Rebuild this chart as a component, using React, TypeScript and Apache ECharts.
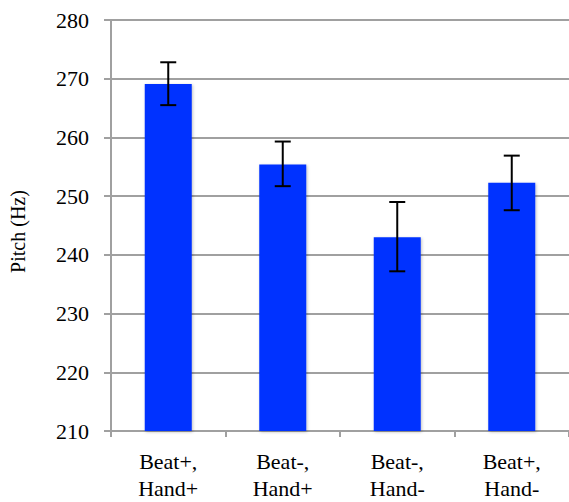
import React, { useEffect, useRef } from "react";
import * as echarts from "echarts";

const categories = ["Beat+,\nHand+", "Beat-,\nHand+", "Beat-,\nHand-", "Beat+,\nHand-"];
const means = [269.1, 255.4, 243.0, 252.3];
const errLow = [265.5, 251.7, 237.2, 247.6];
const errHigh = [272.8, 259.3, 249.0, 256.9];
const yTicks = { min: 210, max: 280, interval: 10 };

const FONT = "'Liberation Serif', 'Times New Roman', serif";

export default function App() {
  const ref = useRef<HTMLDivElement>(null);
  useEffect(() => {
    if (!ref.current) return;
    const chart = echarts.init(ref.current, undefined, { renderer: "svg" });
    chart.setOption({
      animation: false,
      backgroundColor: "#ffffff",
      grid: { left: 105, top: 20, height: 414.5, width: 468, containLabel: false },
      xAxis: {
        type: "category",
        data: categories,
        axisLine: { show: true, lineStyle: { color: "#a0a0a0", width: 2 } },
        axisTick: { show: true, alignWithLabel: false, length: 6, lineStyle: { color: "#a0a0a0", width: 2 } },
        axisLabel: {
          color: "#000",
          fontFamily: FONT,
          fontSize: 22,
          lineHeight: 27,
          margin: 17,
          interval: 0,
        },
        splitLine: { show: false },
      },
      yAxis: {
        type: "value",
        min: yTicks.min,
        max: yTicks.max,
        interval: yTicks.interval,
        name: "Pitch (Hz)",
        nameLocation: "middle",
        nameGap: 83,
        nameTextStyle: { color: "#000", fontFamily: FONT, fontSize: 20, padding: [0, 12, 0, 0] },
        axisLine: { show: true, lineStyle: { color: "#a0a0a0", width: 2 } },
        axisTick: { show: true, length: 7, lineStyle: { color: "#a0a0a0", width: 2 } },
        axisLabel: { color: "#000", fontFamily: FONT, fontSize: 22, margin: 22, padding: [6, 0, 0, 0] },
        splitLine: { show: true, lineStyle: { color: "#a0a0a0", width: 2 } },
      },
      series: [
        {
          type: "bar",
          data: means,
          barWidth: 47,
          itemStyle: {
            color: "#0433ff",
            shadowColor: "rgba(0,0,0,0.25)",
            shadowBlur: 3,
            shadowOffsetX: 1,
            shadowOffsetY: 1,
          },
          z: 2,
        },
        {
          type: "custom",
          data: categories.map((_, i) => [i, errLow[i], errHigh[i]]),
          z: 5,
          renderItem: (params: any, api: any) => {
            const x = api.value(0);
            const lo = api.coord([x, api.value(1)]);
            const hi = api.coord([x, api.value(2)]);
            const half = 8;
            const style = { stroke: "#000", lineWidth: 2 };
            return {
              type: "group",
              children: [
                { type: "line", shape: { x1: hi[0], y1: hi[1], x2: lo[0], y2: lo[1] }, style },
                { type: "line", shape: { x1: hi[0] - half, y1: hi[1], x2: hi[0] + half, y2: hi[1] }, style },
                { type: "line", shape: { x1: lo[0] - half, y1: lo[1], x2: lo[0] + half, y2: lo[1] }, style },
              ],
            };
          },
        },
      ],
    });
    return () => chart.dispose();
  }, []);
  return <div ref={ref} style={{ width: 569, height: 502, position: "absolute", left: 0, top: 0 }} />;
}
